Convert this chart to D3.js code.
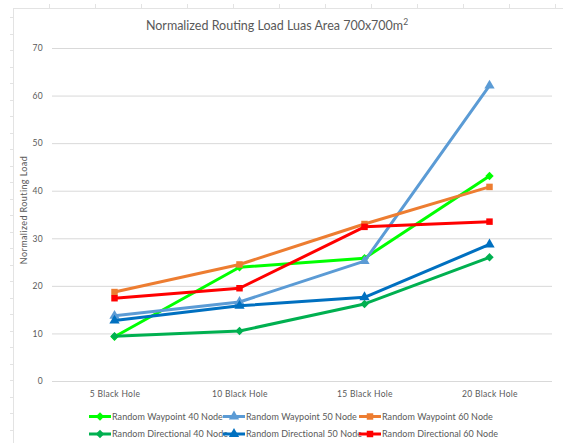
<!DOCTYPE html>
<html>
<head>
<meta charset="utf-8">
<script src="https://cdn.jsdelivr.net/npm/d3@7/dist/d3.min.js"></script>
<style>
  html, body { margin: 0; padding: 0; background: #fff; }
  svg { display: block; font-family: Lato, "Open Sans", "Liberation Sans", sans-serif; }
</style>
</head>
<body>
<svg id="chart" width="563" height="443"></svg>
<script>
// Categories along the x axis
const categories = ["5 Black Hole", "10 Black Hole", "15 Black Hole", "20 Black Hole"];

// Normalized routing load per scenario
const rw40 = [9.3, 23.9, 25.8, 43.1];
const rw50 = [13.7, 16.6, 25.2, 62.1];
const rw60 = [18.7, 24.5, 33.0, 40.8];
const rd40 = [9.4, 10.5, 16.2, 26.0];
const rd50 = [12.7, 15.8, 17.6, 28.7];
const rd60 = [17.4, 19.5, 32.4, 33.5];

const seriesNames = [
  "Random Waypoint 40 Node", "Random Waypoint 50 Node", "Random Waypoint 60 Node",
  "Random Directional 40 Node", "Random Directional 50 Node", "Random Directional 60 Node"
];
const yTicks = [0, 10, 20, 30, 40, 50, 60, 70];

const series = [
  { name: seriesNames[0], values: rw40, color: "#00ff00", marker: "diamond" },
  { name: seriesNames[1], values: rw50, color: "#5b9bd5", marker: "triangle" },
  { name: seriesNames[2], values: rw60, color: "#ed7d31", marker: "square" },
  { name: seriesNames[3], values: rd40, color: "#00b050", marker: "diamond" },
  { name: seriesNames[4], values: rd50, color: "#0070c0", marker: "triangle" },
  { name: seriesNames[5], values: rd60, color: "#ff0000", marker: "square" }
];

const svg = d3.select("#chart");

// Faint page frame with ruler ticks
const frame = svg.append("g").attr("stroke", "#e3e3e3").attr("stroke-width", 1);
frame.append("line").attr("x1", 13).attr("x2", 563).attr("y1", 8.5).attr("y2", 8.5);
frame.append("line").attr("x1", 13.5).attr("x2", 13.5).attr("y1", 8).attr("y2", 443);
d3.range(49, 563, 46).forEach(x => {
  frame.append("line").attr("x1", x + 0.5).attr("x2", x + 0.5).attr("y1", 4).attr("y2", 8);
});
d3.range(17, 443, 16.5).forEach(y => {
  frame.append("line").attr("x1", 10).attr("x2", 13).attr("y1", Math.round(y) + 0.5).attr("y2", Math.round(y) + 0.5);
});

// Scales
const x = d3.scalePoint().domain(categories).range([52, 552]).padding(0.5);
const y = d3.scaleLinear().domain([0, 70]).range([381, 48]);

const labelStyle = sel => sel.attr("fill", "#595959").attr("font-size", 8.5)
  .attr("letter-spacing", 0.3).attr("font-family", "Lato, sans-serif");

// Gridlines and y tick labels
const yAxis = d3.axisLeft(y).tickValues(yTicks).tickSize(-500).tickPadding(9).tickFormat(d3.format("d"));
const gy = svg.append("g").attr("transform", "translate(52,0)").call(yAxis);
gy.select(".domain").remove();
gy.selectAll(".tick line").attr("stroke", "#d9d9d9").attr("stroke-width", 1);
gy.selectAll(".tick text").call(labelStyle);

// X axis
const xAxis = d3.axisBottom(x).tickSize(0).tickPadding(10);
const gx = svg.append("g").attr("transform", "translate(0,381)").call(xAxis);
gx.select(".domain").remove();
gx.selectAll(".tick text").call(labelStyle);
svg.append("line").attr("x1", 52).attr("x2", 552).attr("y1", 381.5).attr("y2", 381.5)
  .attr("stroke", "#d9d9d9").attr("stroke-width", 1);

// Title
const title = svg.append("text")
  .attr("x", 277).attr("y", 30)
  .attr("text-anchor", "middle")
  .attr("fill", "#595959")
  .attr("font-size", 12.5);
title.append("tspan").text("Normalized Routing Load Luas Area 700x700m");
title.append("tspan").attr("dy", -5).attr("font-size", 8.5).text("2");

// Y axis title
svg.append("text")
  .attr("transform", "translate(27,210) rotate(-90)")
  .attr("text-anchor", "middle")
  .attr("fill", "#595959")
  .attr("font-size", 9)
  .attr("letter-spacing", 0.4)
  .text("Normalized Routing Load");

// Marker shapes
function markerPath(kind) {
  if (kind === "square") return d3.symbol().type(d3.symbolSquare).size(42)();
  if (kind === "triangle") return d3.symbol().type(d3.symbolTriangle).size(46)();
  return "M0,-4.2L4.2,0L0,4.2L-4.2,0Z";
}

// Lines and markers
const line = d3.line().x((d, i) => x(categories[i])).y(d => y(d));

series.forEach(s => {
  const g = svg.append("g");
  g.append("path")
    .attr("d", line(s.values))
    .attr("fill", "none")
    .attr("stroke", s.color)
    .attr("stroke-width", 3)
    .attr("stroke-linejoin", "round");
  g.selectAll("path.mark")
    .data(s.values)
    .join("path")
    .attr("class", "mark")
    .attr("transform", (d, i) => `translate(${x(categories[i])},${y(d)})`)
    .attr("d", markerPath(s.marker))
    .attr("fill", s.color);
});

// Legend: two rows of three
const legendX = [89, 223, 359];
const legendY = [416.5, 434];
series.forEach((s, i) => {
  const lx = legendX[i % 3], ly = legendY[Math.floor(i / 3)];
  const g = svg.append("g").attr("transform", `translate(${lx},${ly})`);
  g.append("line").attr("x1", 0).attr("x2", 22).attr("y1", 0).attr("y2", 0)
    .attr("stroke", s.color).attr("stroke-width", 3);
  g.append("path").attr("transform", "translate(11,0)")
    .attr("d", markerPath(s.marker))
    .attr("fill", s.color);
  g.append("text").attr("x", 23).attr("y", 3.2)
    .attr("fill", "#595959").attr("font-size", 9)
    .attr("letter-spacing", 0.05)
    .text(s.name);
});
</script>
</body>
</html>
